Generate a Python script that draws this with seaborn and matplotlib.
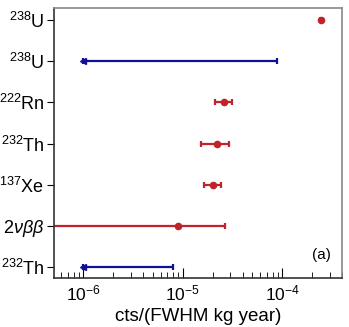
import seaborn as sns
import matplotlib.pyplot as plt
import pandas as pd
import numpy as np

# categories from top to bottom
labels = [r"$^{238}$U", r"$^{238}$U", r"$^{222}$Rn", r"$^{232}$Th",
          r"$^{137}$Xe", r"2$\nu\beta\beta$", r"$^{232}$Th"]

# measured values (red points)
meas_idx = [0, 2, 3, 4, 5]
meas_val = [2.45e-4, 2.6e-5, 2.22e-5, 2.03e-5, 9.05e-6]
meas_lo = [2.38e-4, 2.09e-5, 1.53e-5, 1.62e-5, 1.0e-7]
meas_hi = [2.52e-4, 3.13e-5, 2.95e-5, 2.44e-5, 2.63e-5]

# upper limits (blue arrows)
lim_idx = [1, 6]
lim_lo = [1.0e-6, 1.0e-6]
lim_hi = [8.8e-5, 7.9e-6]

RED = "#c0232b"
BLUE = "#10109a"

sns.set_style("ticks")
plt.rcParams["font.family"] = ["Liberation Sans", "DejaVu Sans"]
plt.rcParams["mathtext.fontset"] = "custom"
plt.rcParams["mathtext.rm"] = "Liberation Sans"
plt.rcParams["mathtext.it"] = "Liberation Sans:italic"
plt.rcParams["text.color"] = "black"
plt.rcParams["xtick.color"] = "black"
plt.rcParams["ytick.color"] = "black"
plt.rcParams["axes.labelcolor"] = "black"

n = len(labels)
ypos = lambda i: n - 1 - i

fig = plt.figure(figsize=(3.49, 3.27), dpi=100)
ax = fig.add_axes([0.155, 0.150, 0.825, 0.826])

df = pd.DataFrame({"x": meas_val, "y": [ypos(i) for i in meas_idx]})
mv = np.array(meas_val)
ax.errorbar(df["x"], df["y"],
            xerr=[mv - np.array(meas_lo), np.array(meas_hi) - mv],
            fmt="none", ecolor=RED, elinewidth=1.6, capsize=2.5, capthick=1.6)
sns.scatterplot(data=df, x="x", y="y", color=RED, s=30, edgecolor=RED,
                linewidth=0, ax=ax, zorder=3)

lh = np.array(lim_hi)
ll = np.array(lim_lo)
ly = [ypos(i) for i in lim_idx]
ax.errorbar(lh, ly, xerr=[lh - ll, np.zeros_like(lh)], fmt="none",
            ecolor=BLUE, elinewidth=1.6, capsize=2.5, capthick=1.6)
ax.plot(ll, ly, linestyle="none", marker="<", color=BLUE, markersize=5)

ax.set_xscale("log")
ax.set_xlim(5.07e-7, 4.0e-4)
ax.set_ylim(-0.26, n - 1 + 0.29)
ax.set_yticks([ypos(i) for i in range(n)])
ax.set_yticklabels(labels, fontsize=13)
ax.set_xlabel("cts/(FWHM kg year)", fontsize=13.5, labelpad=3)
ax.set_ylabel("")

ax.tick_params(axis="x", which="major", direction="in", length=7, labelsize=12.5,
               top=False, pad=4)
ax.tick_params(axis="x", which="minor", direction="in", length=4, top=False)
ax.tick_params(axis="y", direction="out", length=5, right=False, pad=2)
ax.yaxis.set_minor_locator(plt.NullLocator())

for s in ["left", "bottom"]:
    ax.spines[s].set_color("#333333")
for s in ["top", "right"]:
    ax.spines[s].set_color("#888888")
for s in ax.spines.values():
    s.set_linewidth(1.2)

ax.text(0.96, 0.06, "(a)", transform=ax.transAxes, ha="right", va="bottom",
        fontsize=11)

fig.savefig("out.png", dpi=100)
